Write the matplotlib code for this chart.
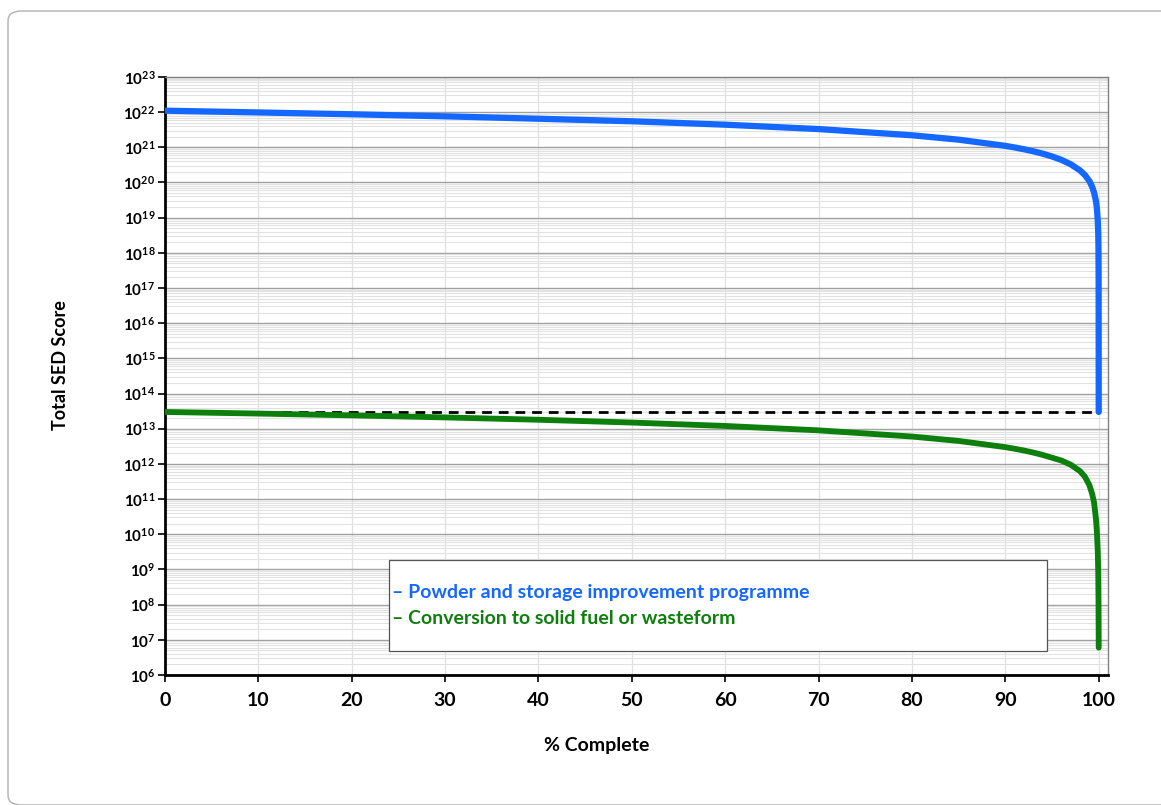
import matplotlib
matplotlib.use("Agg")
import matplotlib.pyplot as plt
from matplotlib.patches import FancyBboxPatch, Rectangle
from matplotlib.ticker import LogLocator, FixedLocator, NullFormatter

plt.rcParams['font.family'] = ['Lato', 'DejaVu Sans']
plt.rcParams['mathtext.fontset'] = 'custom'
plt.rcParams['mathtext.bf'] = 'Lato:bold'
plt.rcParams['mathtext.rm'] = 'Lato:bold'

# ---- data ----
blue_pct = [0, 10, 20, 30, 40, 50, 60, 70, 80, 85, 90, 91, 92, 93, 94, 95, 96,
            97, 98, 98.5, 99, 99.3, 99.5, 99.7, 99.8, 99.9, 99.95, 99.97,
            99.99, 100]
blue_sed = [1.1e22, 9.8e21, 8.7e21, 7.6e21, 6.5e21, 5.5e21, 4.4e21, 3.3e21,
            2.2e21, 1.65e21, 1.1e21, 9.9e20, 8.8e20, 7.7e20, 6.6e20, 5.5e20,
            4.4e20, 3.3e20, 2.2e20, 1.65e20, 1.1e20, 7.5e19, 5.2e19, 3.0e19,
            1.9e19, 8e18, 3.5e18, 1.5e18, 2e17, 3e13]

green_pct = [0, 10, 20, 30, 40, 50, 60, 70, 80, 85, 90, 91, 92, 93, 94, 95,
             96, 97, 98, 98.5, 99, 99.3, 99.5, 99.7, 99.8, 99.9, 99.95, 99.98,
             100]
green_sed = [3.0e13, 2.7e13, 2.4e13, 2.1e13, 1.8e13, 1.5e13, 1.2e13, 9e12,
             6e12, 4.5e12, 3e12, 2.7e12, 2.4e12, 2.1e12, 1.8e12, 1.5e12,
             1.25e12, 9.5e11, 6.2e11, 4.4e11, 2.5e11, 1.4e11, 8e10, 2.8e10,
             1.25e10, 3.2e9, 8e8, 1e8, 6e6]

threshold = 3e13
threshold_pct = [0, 100]

x_ticks = [0, 10, 20, 30, 40, 50, 60, 70, 80, 90, 100]
y_exponents = list(range(6, 24))

labels = ["Powder and storage improvement programme",
          "Conversion to solid fuel or wasteform"]
blue = '#1467ff'
green = '#0c7f0c'

fig = plt.figure(figsize=(11.61, 8.05), dpi=100)
fig.patch.set_facecolor('white')
fig.patches.append(FancyBboxPatch((8 / 1161, 0.0), 1.2, 1 - 11 / 805,
                                  boxstyle="round,pad=0,rounding_size=0.012",
                                  transform=fig.transFigure, facecolor='none',
                                  edgecolor='#b0b0b0', lw=1.0, zorder=0))

ax = fig.add_axes([0.1421, 0.1615, 0.8123, 0.7429])
ax.set_yscale('log')
ax.set_xlim(0, 101)
ax.set_ylim(1e6, 1e23)

# grid / ticks
ax.yaxis.set_major_locator(FixedLocator([10.0 ** e for e in y_exponents]))
ax.yaxis.set_minor_locator(LogLocator(base=10, subs=range(2, 10), numticks=100))
ax.yaxis.set_minor_formatter(NullFormatter())
ax.set_yticklabels([r'$\mathbf{10^{%d}}$' % e for e in y_exponents])
ax.set_xticks(x_ticks)
ax.set_xticklabels([str(t) for t in x_ticks], fontsize=14, fontweight='bold')
ax.tick_params(axis='y', which='major', labelsize=11, length=5, width=1.2,
               direction='out', pad=2)
ax.tick_params(axis='y', which='minor', length=0)
ax.tick_params(axis='x', which='major', length=5, width=1.2, direction='out', pad=7)
ax.grid(True, which='major', axis='y', color='#a0a0a0', lw=1.0, zorder=0)
ax.grid(True, which='minor', axis='y', color='#e2e2e2', lw=0.8, zorder=0)
ax.grid(True, which='major', axis='x', color='#e0e0e0', lw=0.9, zorder=0)
ax.set_axisbelow(True)

for s in ['left', 'bottom']:
    ax.spines[s].set_linewidth(2.0)
    ax.spines[s].set_color('black')
for s in ['top', 'right']:
    ax.spines[s].set_linewidth(1.0)
    ax.spines[s].set_color('#808080')

ax.plot(threshold_pct, [threshold, threshold], color='black', lw=2.0,
        linestyle=(0, (3.5, 2.5)), zorder=2)
ax.plot(blue_pct, blue_sed, color=blue, lw=4.5, zorder=3,
        solid_capstyle='round', solid_joinstyle='round')
ax.plot(green_pct, green_sed, color=green, lw=4.2, zorder=3,
        solid_capstyle='round', solid_joinstyle='round')

fig.text(597 / 1161, 1 - 745 / 805, '% Complete', fontsize=14,
         fontweight='bold', ha='center', va='center')
fig.text(60 / 1161, 1 - 365 / 805, 'Total SED Score', rotation=90,
         fontsize=13, fontweight='bold', ha='center', va='center')

# legend box
ax.add_patch(Rectangle((0.2375, 0.040), 0.6975, 0.152, transform=ax.transAxes,
                       facecolor='white', edgecolor='#555555', lw=0.9, zorder=4))
ax.text(0.2405, 0.138, '\u2013 ' + labels[0], transform=ax.transAxes,
        color=blue, fontsize=14, fontweight='bold', va='center', zorder=5)
ax.text(0.2405, 0.095, '\u2013 ' + labels[1], transform=ax.transAxes,
        color=green, fontsize=14, fontweight='bold', va='center', zorder=5)

fig.savefig('out.png', dpi=100)
